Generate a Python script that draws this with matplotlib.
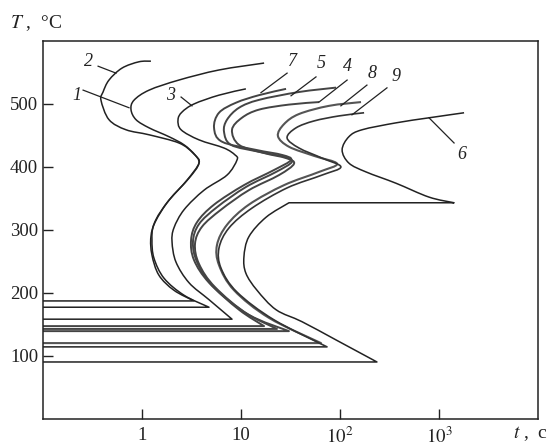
import matplotlib
matplotlib.use("Agg")
import numpy as np
import matplotlib.pyplot as plt
from matplotlib.path import Path
from matplotlib.patches import PathPatch

plt.rcParams['mathtext.fontset'] = 'stix'
plt.rcParams['font.family'] = ['Liberation Serif', 'DejaVu Serif']

# Each curve: time t (s) and temperature T (degC)
t1 = [0.1, 4.75, 2.66, 1.67, 1.32, 1.26, 1.32, 1.79, 2.85, 3.76, 3.43, 2.66, 1.87, 1.18, 0.87, 0.774, 0.83, 1.18, 2.36, 5.99, 17.1]
T1 = [177, 177, 196, 223, 255, 284, 308, 343, 379, 406, 419, 435, 448, 462, 475, 491, 506, 522, 538, 554, 565]

t2 = [0.1, 3.35, 2.10, 1.48, 1.26, 1.23, 1.38, 1.87, 2.98, 3.76, 3.27, 2.36, 1.18, 0.689, 0.464, 0.385, 0.404, 0.464, 0.628, 0.93, 1.23]
T2 = [187, 187, 204, 228, 260, 289, 316, 347, 382, 406, 422, 438, 451, 459, 475, 506, 519, 538, 557, 567, 568]

t3 = [0.1, 8.11, 4.75, 2.98, 2.20, 2.01, 2.10, 2.66, 4.23, 7.22, 9.11, 8.7, 6.73, 3.76, 2.48, 2.31, 2.53, 3.35, 5.99, 11.2]
T3 = [158, 158, 189, 216, 249, 281, 303, 332, 363, 387, 411, 419, 430, 443, 459, 475, 487, 500, 514, 524]

t4 = [0.1, 30.5, 12.0, 5.46, 3.76, 3.43, 4.04, 6.28, 12.0, 24.2, 34.3, 28.5, 17.1, 9.55, 8.11, 10.2, 15.2, 30.5, 61.4]
T4 = [139, 139, 165, 209, 246, 278, 305, 332, 363, 387, 405, 414, 422, 435, 459, 478, 491, 499, 503]

t5 = [0.1, 23.1, 10.7, 5.09, 3.59, 3.27, 3.76, 5.72, 11.2, 22.6, 32.7, 27.2, 15.2, 7.92, 6.73, 7.22, 9.55, 15.2, 38.5, 91.2]
T5 = [142.5, 142.5, 169.5, 212, 249, 281, 309, 336, 368, 392, 408, 416, 424, 435, 456, 475, 494, 506.5, 519, 526]

t6 = [0.1, 236, 91.2, 41.3, 22.6, 14.5, 11.2, 10.7, 12.0, 17.9, 30.5, 1419, 792, 368, 183, 123, 105, 123, 167, 368, 792, 1790]
T6 = [90, 90, 125, 154, 173, 204, 231, 257, 289, 320, 343, 343, 352, 374, 392, 406, 427, 448, 459, 470, 478, 486]

t7 = [0.1, 17.1, 9.55, 4.75, 3.35, 3.13, 3.59, 5.34, 10.7, 21.5, 32.0, 26.0, 14.2, 6.43, 5.34, 5.99, 8.9, 15.2, 28.5]
T7 = [147, 147, 173, 216, 252, 284, 312, 340, 371, 395, 411, 419, 427, 440, 462, 486, 502, 514, 524]

t8 = [0.1, 64.3, 19.2, 8.5, 5.99, 5.72, 7.22, 12.0, 27.2, 61.4, 93.3, 54.6, 30.5, 23.6, 27.2, 38.5, 77.4, 163]
T8 = [120, 120, 160, 204, 244, 276, 308, 340, 371, 392, 405, 417.5, 432, 449, 468, 484, 497, 503]

t9 = [0.1, 73.9, 21.5, 9.11, 6.28, 5.99, 7.56, 12.9, 29.2, 65.8, 102, 65.8, 38.5, 29.2, 35.9, 54.6, 97.7, 175]
T9 = [114, 114, 157, 201, 239, 271, 303, 334.5, 366.6, 387, 400, 414, 430, 446, 462, 473, 481, 486]

curve_names = ['1', '2', '3', '4', '5', '6', '7', '8', '9']
curves_t = [t1, t2, t3, t4, t5, t6, t7, t8, t9]
curves_T = [T1, T2, T3, T4, T5, T6, T7, T8, T9]
# indices of sharp corners along each curve
corners = {'1': [0, 1], '2': [0, 1], '3': [0, 1], '4': [0, 1], '5': [0, 1],
           '6': [0, 1, 10, 11], '7': [0, 1], '8': [0, 1], '9': [0, 1]}

# label text positions and leader ends (t, T)
label_pos = {'1': (0.22, 513), '2': (0.291, 567), '3': (1.96, 513), '7': (32.7, 567),
             '5': (64.3, 565), '4': (120, 559), '8': (210, 549), '9': (368, 543), '6': (1708, 419)}
leader_from = {'1': (0.254, 522), '2': (0.36, 560), '3': (2.48, 511), '7': (29.2, 549),
               '5': (57.2, 543), '4': (118, 538), '8': (187, 530), '9': (298, 525.6), '6': (1419, 438)}
leader_to = {'1': (0.739, 494), '2': (0.546, 549), '3': (3.2, 497), '7': (15.9, 518),
             '5': (32.0, 513), '4': (61.4, 503), '8': (102, 497), '9': (132, 482.7), '6': (792, 478)}

xticks = [1, 10, 100, 1000]
xtick_labels = ['1', '10', r'$10^2$', r'$10^3$']
yticks = [100, 200, 300, 400, 500]


def smooth_path(tt, TT, corner_idx):
    """Bezier path through the read points (smooth except at corners)."""
    u = np.log10(np.asarray(tt, float))
    v = np.asarray(TT, float)
    n = len(u)
    verts = [(u[0], v[0])]
    codes = [Path.MOVETO]
    for i in range(n - 1):
        p0 = np.array([u[i], v[i]])
        p1 = np.array([u[i + 1], v[i + 1]])
        if i in corner_idx and (i + 1) in corner_idx:
            verts.append(tuple(p1)); codes.append(Path.LINETO)
            continue
        pm = np.array([u[i - 1], v[i - 1]]) if (i > 0 and i not in corner_idx) else p0
        pp = np.array([u[i + 2], v[i + 2]]) if (i + 2 < n and (i + 1) not in corner_idx) else p1
        c1 = p0 + (p1 - pm) / 6.0
        c2 = p1 - (pp - p0) / 6.0
        verts += [tuple(c1), tuple(c2), tuple(p1)]
        codes += [Path.CURVE4] * 3
    verts = np.array(verts)
    verts[:, 0] = 10 ** verts[:, 0]
    return Path(verts, codes)


fig = plt.figure(figsize=(5.48, 4.46), dpi=100)
ax = fig.add_axes([0.0785, 0.0614, 0.9033, 0.8466])
ax.set_xscale('log')
ax.set_xlim(0.1, 1e4)
ax.set_ylim(0, 600)

styles = {'1': ('#222222', 1.1), '2': ('#222222', 1.1), '3': ('#222222', 1.1),
          '4': ('#444444', 1.4), '5': ('#444444', 1.4), '6': ('#222222', 1.1),
          '7': ('#444444', 1.4), '8': ('#555555', 1.5), '9': ('#333333', 1.2)}
for name, tt, TT in zip(curve_names, curves_t, curves_T):
    c, lw = styles[name]
    path = smooth_path(tt, TT, corners[name])
    ax.add_patch(PathPatch(path, fill=False, edgecolor=c, lw=lw, joinstyle='round'))

for name in curve_names:
    x0, y0 = leader_from[name]
    x1, y1 = leader_to[name]
    ax.plot([x0, x1], [y0, y1], color='#222222', lw=0.9)
    ax.text(*label_pos[name], name, fontsize=13, fontstyle='italic',
            ha='center', va='center', color='#222222')

ax.set_xticks(xticks)
ax.set_xticklabels(xtick_labels)
ax.xaxis.set_minor_locator(matplotlib.ticker.NullLocator())
ax.set_yticks(yticks)
ax.tick_params(direction='in', length=7, width=1, labelsize=13.5, colors='#222222')
ax.tick_params(axis='x', pad=6)
for s in ax.spines.values():
    s.set_linewidth(1.1)
    s.set_color('#222222')

fig.text(0.018, 0.937, r'$T$ ,  °C', fontsize=14, color='#222222')
fig.text(0.937, 0.018, r'$t$ ,  c', fontsize=14, color='#222222')

fig.savefig('out.png', dpi=100, facecolor='white')
